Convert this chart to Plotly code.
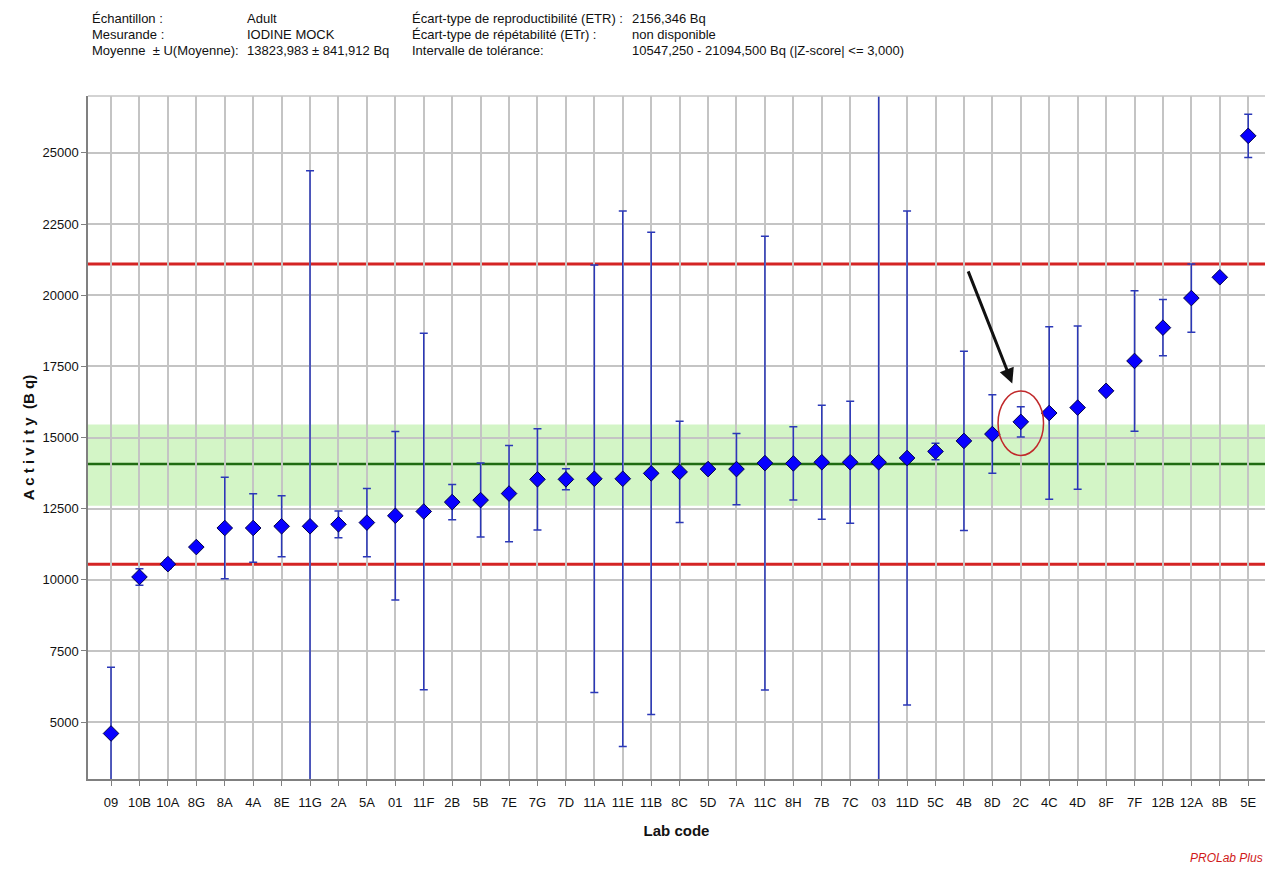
import plotly.graph_objects as go

# Laboratory codes in ranked order, reported activity (Bq) and expanded uncertainty (Bq)
lab_codes = ["09", "10B", "10A", "8G", "8A", "4A", "8E", "11G", "2A", "5A",
             "01", "11F", "2B", "5B", "7E", "7G", "7D", "11A", "11E", "11B",
             "8C", "5D", "7A", "11C", "8H", "7B", "7C", "03", "11D", "5C",
             "4B", "8D", "2C", "4C", "4D", "8F", "7F", "12B", "12A", "8B", "5E"]
activity = [4600, 10100, 10550, 11150, 11820, 11820, 11880, 11880, 11950, 12010,
            12250, 12400, 12730, 12800, 13030, 13530, 13530, 13550, 13550, 13740,
            13790, 13890, 13890, 14100, 14090, 14130, 14130, 14130, 14280, 14510,
            14880, 15120, 15550, 15860, 16050, 16640, 17690, 18860, 19900, 20630, 25600]
uncertainty = [2330, 290, 150, 0, 1780, 1200, 1070, 12490, 470, 1200,
               2960, 6260, 620, 1300, 1690, 1780, 370, 7510, 9410, 8470,
               1780, 0, 1250, 7970, 1290, 2000, 2140, 13500, 8680, 290,
               3150, 1380, 530, 3030, 2870, 0, 2470, 990, 1200, 0, 760]

assigned_value = 14070
band_low, band_high = 12600, 15460
tol_low, tol_high = 10547.25, 21094.5
y_ticks = [5000, 7500, 10000, 12500, 15000, 17500, 20000, 22500, 25000]
highlight_code = "2C"

header_rows = [
    ["Échantillon :", "Adult", "Écart-type de reproductibilité (ETR) :", "2156,346 Bq"],
    ["Mesurande :", "IODINE MOCK", "Écart-type de répétabilité (ETr) :", "non disponible"],
    ["Moyenne  ± U(Moyenne):", "13823,983 ± 841,912 Bq", "Intervalle de tolérance:",
     "10547,250 - 21094,500 Bq (|Z-score| <= 3,000)"],
]

W, H = 1265, 870
ML, MR, MT, MB = 88, 0, 96, 91
PW, PH = W - ML - MR, H - MT - MB

GRID = "#c4c4c4"
AXIS = "#808080"
NARROW = "Liberation Sans Narrow, Arial Narrow, Liberation Sans, Arial, sans-serif"
SANS = "Liberation Sans, Arial, sans-serif"


def px_x(px):
    return (px - ML) / PW


def px_y(py):
    return (H - MB - py) / PH


x_idx = list(range(len(lab_codes)))

fig = go.Figure()
fig.add_trace(go.Scatter(
    x=x_idx, y=activity, mode="markers",
    marker=dict(symbol="diamond", size=12, color="#0800ff",
                line=dict(color="#00004a", width=1)),
    error_y=dict(type="data", array=uncertainty, visible=True,
                 color="#2b38b8", thickness=1.5, width=4),
    showlegend=False, hoverinfo="x+y",
))

shapes = [
    # consensus band and reference lines
    dict(type="rect", xref="paper", yref="y", x0=0, x1=1, y0=band_low, y1=band_high,
         fillcolor="rgba(150,230,120,0.42)", line=dict(width=0), layer="below"),
    dict(type="line", xref="paper", yref="y", x0=0, x1=1, y0=assigned_value, y1=assigned_value,
         line=dict(color="#1f6b12", width=2.5), layer="between"),
    dict(type="line", xref="paper", yref="y", x0=0, x1=1, y0=tol_high, y1=tol_high,
         line=dict(color="#d42424", width=3), layer="between"),
    dict(type="line", xref="paper", yref="y", x0=0, x1=1, y0=tol_low, y1=tol_low,
         line=dict(color="#d42424", width=3), layer="between"),
    # top frame
    dict(type="line", xref="paper", yref="paper", x0=0, x1=1, y0=1, y1=1,
         line=dict(color=GRID, width=1.5)),
]

hi = lab_codes.index(highlight_code)
hv = activity[hi]
shapes.append(dict(type="circle", xref="x", yref="y",
                   x0=hi - 0.8, x1=hi + 0.8, y0=hv - 1180, y1=hv + 1080,
                   line=dict(color="#c0282a", width=1.5)))

annotations = []
col_px = [90, 245, 410, 630]
row_py = [18, 34, 50]
for r, row in enumerate(header_rows):
    for c, txt in enumerate(row):
        annotations.append(dict(
            xref="paper", yref="paper", x=px_x(col_px[c]), y=px_y(row_py[r]),
            xanchor="left", yanchor="middle", text=txt, showarrow=False,
            font=dict(family=NARROW, size=13, color="#111111")))

annotations.append(dict(
    xref="x", yref="y", x=hi - 0.3, y=hv + 1350, axref="x", ayref="y",
    ax=hi - 1.87, ay=hv + 5340, text="", showarrow=True,
    arrowhead=2, arrowsize=1, arrowwidth=3, arrowcolor="#111111"))

annotations.append(dict(
    xref="paper", yref="paper", x=1, y=px_y(858), xanchor="right", yanchor="middle",
    text="<i>PROLab Plus</i>", showarrow=False,
    font=dict(family=SANS, size=12, color="#d01818")))

fig.update_layout(
    width=W, height=H,
    margin=dict(l=ML, r=MR, t=MT, b=MB, pad=0),
    paper_bgcolor="white", plot_bgcolor="white",
    shapes=shapes, annotations=annotations,
    xaxis=dict(
        range=[-0.81, 40.59], tickmode="array", tickvals=x_idx, ticktext=lab_codes,
        showgrid=True, gridcolor=GRID, gridwidth=1.5, zeroline=False,
        showline=True, linecolor=AXIS, linewidth=1.5,
        ticks="outside", ticklen=5, tickcolor=AXIS, tickwidth=1,
        ticklabelstandoff=6,
        tickfont=dict(family=NARROW, size=13, color="#111111"),
        title=dict(text="<b>Lab code</b>", standoff=16,
                   font=dict(family=NARROW, size=15, color="#111111")),
    ),
    yaxis=dict(
        range=[3000, 27000], tickmode="array", tickvals=y_ticks,
        ticktext=[str(v) for v in y_ticks],
        showgrid=True, gridcolor=GRID, gridwidth=1.5, zeroline=False,
        showline=True, linecolor=AXIS, linewidth=1.5,
        ticks="outside", ticklen=5, tickcolor=AXIS, tickwidth=1,
        tickfont=dict(family=SANS, size=13, color="#111111"),
        title=dict(text="<b>A c t i v i t y  (B q)</b>", standoff=4,
                   font=dict(family=SANS, size=15, color="#111111")),
    ),
)

fig.write_html("out.html")
